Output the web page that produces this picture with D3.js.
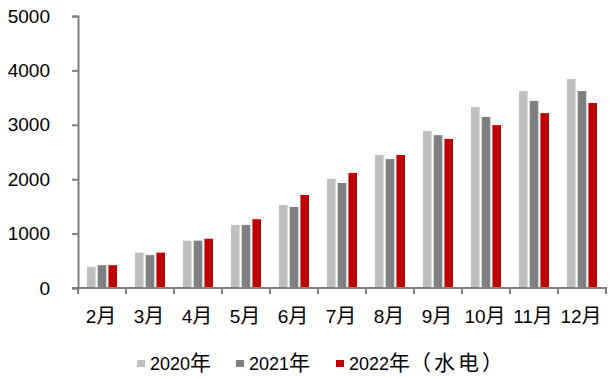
<!DOCTYPE html>
<html>
<head>
<meta charset="utf-8">
<script src="https://cdn.jsdelivr.net/npm/d3@7"></script>
<style>
  html, body { margin: 0; padding: 0; background: #fff; }
  svg { display: block; }
  .num { font-family: 'Liberation Sans', Arial, sans-serif; }
  .cjk { font-family: 'Noto Sans CJK SC', sans-serif; }
</style>
</head>
<body>
<svg id="chart" width="610" height="378"></svg>
<script>
// Monthly categories and cumulative generation values per year
const months = ["2月", "3月", "4月", "5月", "6月", "7月", "8月", "9月", "10月", "11月", "12月"];
const seriesNames = ["2020年", "2021年", "2022年（水电）"];
const values2020 = [390, 650, 870, 1160, 1525, 2005, 2445, 2885, 3325, 3620, 3840];
const values2021 = [420, 605, 870, 1160, 1490, 1930, 2370, 2810, 3145, 3440, 3620];
const values2022 = [420, 650, 905, 1265, 1710, 2115, 2445, 2740, 2995, 3215, 3400];
const yTicks = [0, 1000, 2000, 3000, 4000, 5000];
const colors = ["#BFBFBF", "#808080", "#C00000"];

const series = [values2020, values2021, values2022];

const svg = d3.select("#chart");
const left = 78, right = 606, y0 = 288;

const x = d3.scaleBand().domain(months).range([left, right]).padding(0);
const y = d3.scaleLinear().domain([0, 5000]).range([y0, 16]);

// Bars within each month group
const xInner = d3.scaleBand().domain(d3.range(3))
  .range([9, 39]).paddingInner(0.2).paddingOuter(0);

const groups = svg.append("g").selectAll("g")
  .data(months)
  .join("g")
  .attr("transform", d => `translate(${x(d)},0)`);

groups.selectAll("rect")
  .data((m, i) => series.map((s, k) => ({ k, v: s[i] })))
  .join("rect")
  .attr("x", d => xInner(d.k))
  .attr("width", xInner.bandwidth())
  .attr("y", d => y(d.v))
  .attr("height", d => y0 - y(d.v))
  .attr("fill", d => colors[d.k]);

// Y axis
const yAxis = svg.append("g")
  .attr("transform", `translate(${left},0)`)
  .call(d3.axisLeft(y).tickValues(yTicks).tickSize(6).tickPadding(22).tickFormat(d3.format("d")));
yAxis.select(".domain").attr("stroke", "#808080").attr("stroke-width", 2);
yAxis.selectAll(".tick line").attr("stroke", "#808080").attr("stroke-width", 2);
yAxis.selectAll(".tick text")
  .attr("fill", "#000")
  .attr("class", "num")
  .style("font-size", "19px");

// X axis with ticks at category boundaries
const xAxis = svg.append("g")
  .attr("transform", `translate(0,${y0})`);
xAxis.append("line")
  .attr("x1", left - 6).attr("x2", right + 1)
  .attr("stroke", "#808080").attr("stroke-width", 2);
const boundaries = months.map(m => x(m)).concat([right]);
xAxis.selectAll("line.tick")
  .data(boundaries)
  .join("line")
  .attr("class", "tick")
  .attr("x1", d => d).attr("x2", d => d)
  .attr("y1", 0).attr("y2", 6)
  .attr("stroke", "#808080").attr("stroke-width", 2);

// Split a label into its digit part and its CJK part
const splitLabel = s => {
  const m = s.match(/^(\d+)(.*)$/);
  return m ? [m[1], m[2]] : ["", s];
};

const xLabels = xAxis.selectAll("text")
  .data(months)
  .join("text")
  .attr("x", d => x(d) + x.bandwidth() / 2 - 1)
  .attr("y", 35)
  .attr("text-anchor", "middle")
  .attr("fill", "#000");
xLabels.append("tspan").attr("class", "num").style("font-size", "19px")
  .text(d => splitLabel(d)[0]);
xLabels.append("tspan").attr("class", "cjk").style("font-size", "20px")
  .text(d => splitLabel(d)[1]);

// Legend
const legendX = [137, 236, 336];
const legend = svg.append("g").selectAll("g")
  .data(seriesNames)
  .join("g")
  .attr("transform", (d, i) => `translate(${legendX[i]},0)`);
legend.append("rect")
  .attr("x", 0).attr("y", 360)
  .attr("width", 8).attr("height", 7)
  .attr("fill", (d, i) => colors[i]);
const legendText = legend.append("text")
  .attr("x", 13).attr("y", 370)
  .attr("fill", "#000");
legendText.append("tspan").attr("class", "num").style("font-size", "18px")
  .text(d => splitLabel(d)[0]);
legendText.append("tspan").attr("class", "cjk").style("font-size", "21px")
  .text(d => splitLabel(d)[1].slice(0, 1));
legendText.append("tspan").attr("class", "cjk").style("font-size", "21px")
  .style("letter-spacing", "3px")
  .text(d => splitLabel(d)[1].slice(1));
</script>
</body>
</html>
